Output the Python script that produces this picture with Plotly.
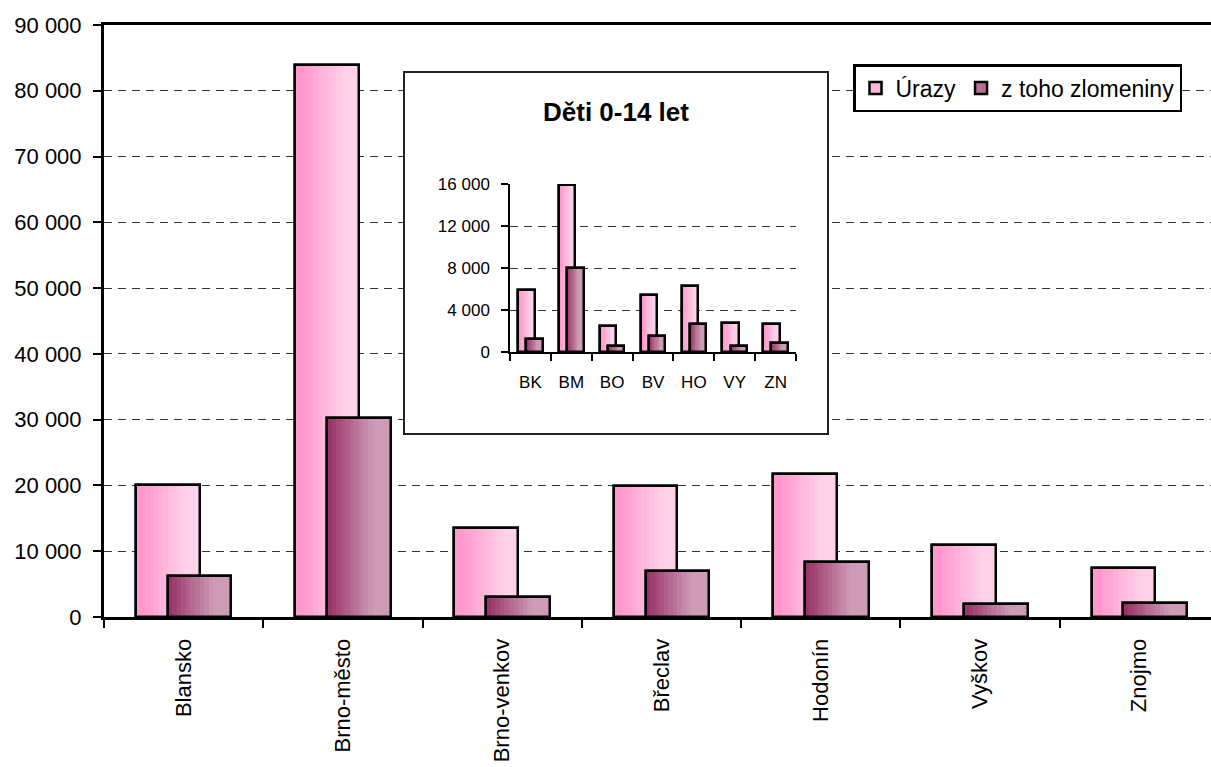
import plotly.graph_objects as go

# ---------------- data ----------------
categories = ["Blansko", "Brno-město", "Brno-venkov", "Břeclav", "Hodonín", "Vyškov", "Znojmo"]
urazy = [20100, 83900, 13500, 19900, 21800, 11000, 7500]
zlomeniny = [6200, 30300, 3000, 7000, 8300, 2000, 2100]

inset_categories = ["BK", "BM", "BO", "BV", "HO", "VY", "ZN"]
inset_urazy = [5900, 15950, 2450, 5400, 6270, 2800, 2670]
inset_zlomeniny = [1270, 8000, 540, 1560, 2670, 570, 830]

series_names = ["Úrazy", "z toho zlomeniny"]
inset_title = "Děti 0-14 let"
main_y_ticks = list(range(0, 90001, 10000))
inset_y_ticks = [0, 4000, 8000, 12000, 16000]

# ---------------- style ----------------
FONT = "Liberation Sans, Arial, sans-serif"
W, H = 1211, 767
ML, MR, MT, MB = 104, 0, 25, 150
PW, PH = W - ML - MR, H - MT - MB

def px_x(px):
    return (px - ML) / PW

def px_y(py):
    return (H - MB - py) / PH

URAZY_C = ((255, 153, 204), (255, 210, 233), 0.12, 0.78)
ZLOM_C = ((153, 51, 102), (206, 155, 182), 0.03, 0.72)

def grad(spec, t):
    c0, c1, t0, t1 = spec
    u = min(1.0, max(0.0, (t - t0) / (t1 - t0)))
    return "rgb(%d,%d,%d)" % tuple(round(a + (b - a) * u) for a, b in zip(c0, c1))

NSL = 14

def add_series(fig, x, y, offset, width, spec, name, xa, ya, legend, lw):
    mid = grad(spec, 0.45)
    fig.add_trace(go.Bar(x=x, y=y, offset=offset, width=width, name=name,
                         marker=dict(color=mid, line=dict(color="black", width=lw)),
                         showlegend=legend, xaxis=xa, yaxis=ya, hoverinfo="skip"))
    sw = width / NSL
    for k in range(NSL):
        wk = sw + (0.004 * width if k < NSL - 1 else 0)
        fig.add_trace(go.Bar(x=x, y=y, offset=offset + k * sw, width=wk,
                             marker=dict(color=grad(spec, (k + 0.5) / NSL), line=dict(width=0)),
                             showlegend=False, xaxis=xa, yaxis=ya, hoverinfo="skip"))
    fig.add_trace(go.Bar(x=x, y=y, offset=offset, width=width,
                         marker=dict(color="rgba(0,0,0,0)", line=dict(color="black", width=lw)),
                         showlegend=False, xaxis=xa, yaxis=ya, hoverinfo="skip"))

fig = go.Figure()
add_series(fig, categories, urazy, -0.3, 0.4, URAZY_C, series_names[0], "x", "y", True, 2.5)
add_series(fig, categories, zlomeniny, -0.1, 0.4, ZLOM_C, series_names[1], "x", "y", True, 2.5)
# empty trace that creates the inset frame subplot (white box)
fig.add_trace(go.Scatter(x=[], y=[], xaxis="x2", yaxis="y2", showlegend=False, hoverinfo="skip"))
add_series(fig, inset_categories, inset_urazy, -0.3, 0.4, URAZY_C, series_names[0], "x3", "y3", False, 2.5)
add_series(fig, inset_categories, inset_zlomeniny, -0.1, 0.4, ZLOM_C, series_names[1], "x3", "y3", False, 2.5)

grid_dash = "8px,6px"

fig.update_layout(
    width=W, height=H,
    margin=dict(l=ML, r=MR, t=MT, b=MB, pad=0, autoexpand=False),
    paper_bgcolor="white", plot_bgcolor="white",
    barmode="overlay",
    separators=", ",
    bargap=0,
    showlegend=True,
    legend=dict(orientation="h", x=px_x(853), y=px_y(64), xanchor="left", yanchor="top",
                bgcolor="white", bordercolor="black", borderwidth=2.5,
                font=dict(family=FONT, size=23, color="black"),
                itemclick=False, itemdoubleclick=False, traceorder="normal"),
    xaxis=dict(type="category", categoryorder="array", categoryarray=categories,
               range=[-0.5, 6.45], domain=[0, 1], automargin=False,
               showline=True, linecolor="black", linewidth=3, mirror=True,
               ticks="outside", ticklen=8, tickwidth=2, tickcolor="black", tickson="boundaries",
               tickangle=-90, ticklabelstandoff=10,
               tickfont=dict(family=FONT, size=22, color="black"),
               showgrid=False, zeroline=False, fixedrange=True),
    yaxis=dict(range=[0, 90000], tickvals=main_y_ticks, tickformat=",d", automargin=False,
               showline=True, linecolor="black", linewidth=3,
               ticks="outside", ticklen=8, tickwidth=2, tickcolor="black",
               ticklabelstandoff=7,
               tickfont=dict(family=FONT, size=22, color="black"),
               showgrid=True, gridcolor="#333333", gridwidth=1, griddash=grid_dash,
               zeroline=False, fixedrange=True),
    # inset frame
    xaxis2=dict(domain=[px_x(405), px_x(827)], anchor="y2", range=[0, 1], automargin=False,
                showline=True, mirror=True, linecolor="#222222", linewidth=1.5,
                showticklabels=False, ticks="", showgrid=False, zeroline=False, fixedrange=True),
    yaxis2=dict(domain=[px_y(433), px_y(73)], anchor="x2", range=[0, 1], automargin=False,
                showline=True, mirror=True, linecolor="#222222", linewidth=1.5,
                showticklabels=False, ticks="", showgrid=False, zeroline=False, fixedrange=True),
    # inset data axes
    xaxis3=dict(domain=[px_x(510), px_x(796)], anchor="y3", type="category", automargin=False,
                categoryorder="array", categoryarray=inset_categories, range=[-0.5, 6.5],
                showline=True, linecolor="black", linewidth=1.5,
                ticks="outside", ticklen=7, tickwidth=1.5, tickcolor="black", tickson="boundaries",
                tickangle=0, ticklabelstandoff=14,
                tickfont=dict(family=FONT, size=17, color="black"),
                showgrid=False, zeroline=False, fixedrange=True),
    yaxis3=dict(domain=[px_y(352), px_y(184)], anchor="x3", range=[0, 16000], automargin=False,
                tickvals=inset_y_ticks, tickformat=",d",
                showline=True, linecolor="black", linewidth=1.5,
                ticks="outside", ticklen=7, tickwidth=1.5, tickcolor="black",
                ticklabelstandoff=8,
                tickfont=dict(family=FONT, size=17, color="black"),
                showgrid=False,
                minor=dict(tickvals=inset_y_ticks[1:-1], showgrid=True, gridcolor="#333333",
                           gridwidth=1, griddash=grid_dash, ticks=""),
                zeroline=False, fixedrange=True),
    annotations=[dict(text="<b>%s</b>" % inset_title, xref="paper", yref="paper",
                      x=px_x(616), y=px_y(112), xanchor="center", yanchor="middle",
                      showarrow=False, font=dict(family=FONT, size=26, color="black"))],
)

fig.write_html("out.html", config={"displayModeBar": False},
               post_script="document.body.style.margin='0';")
